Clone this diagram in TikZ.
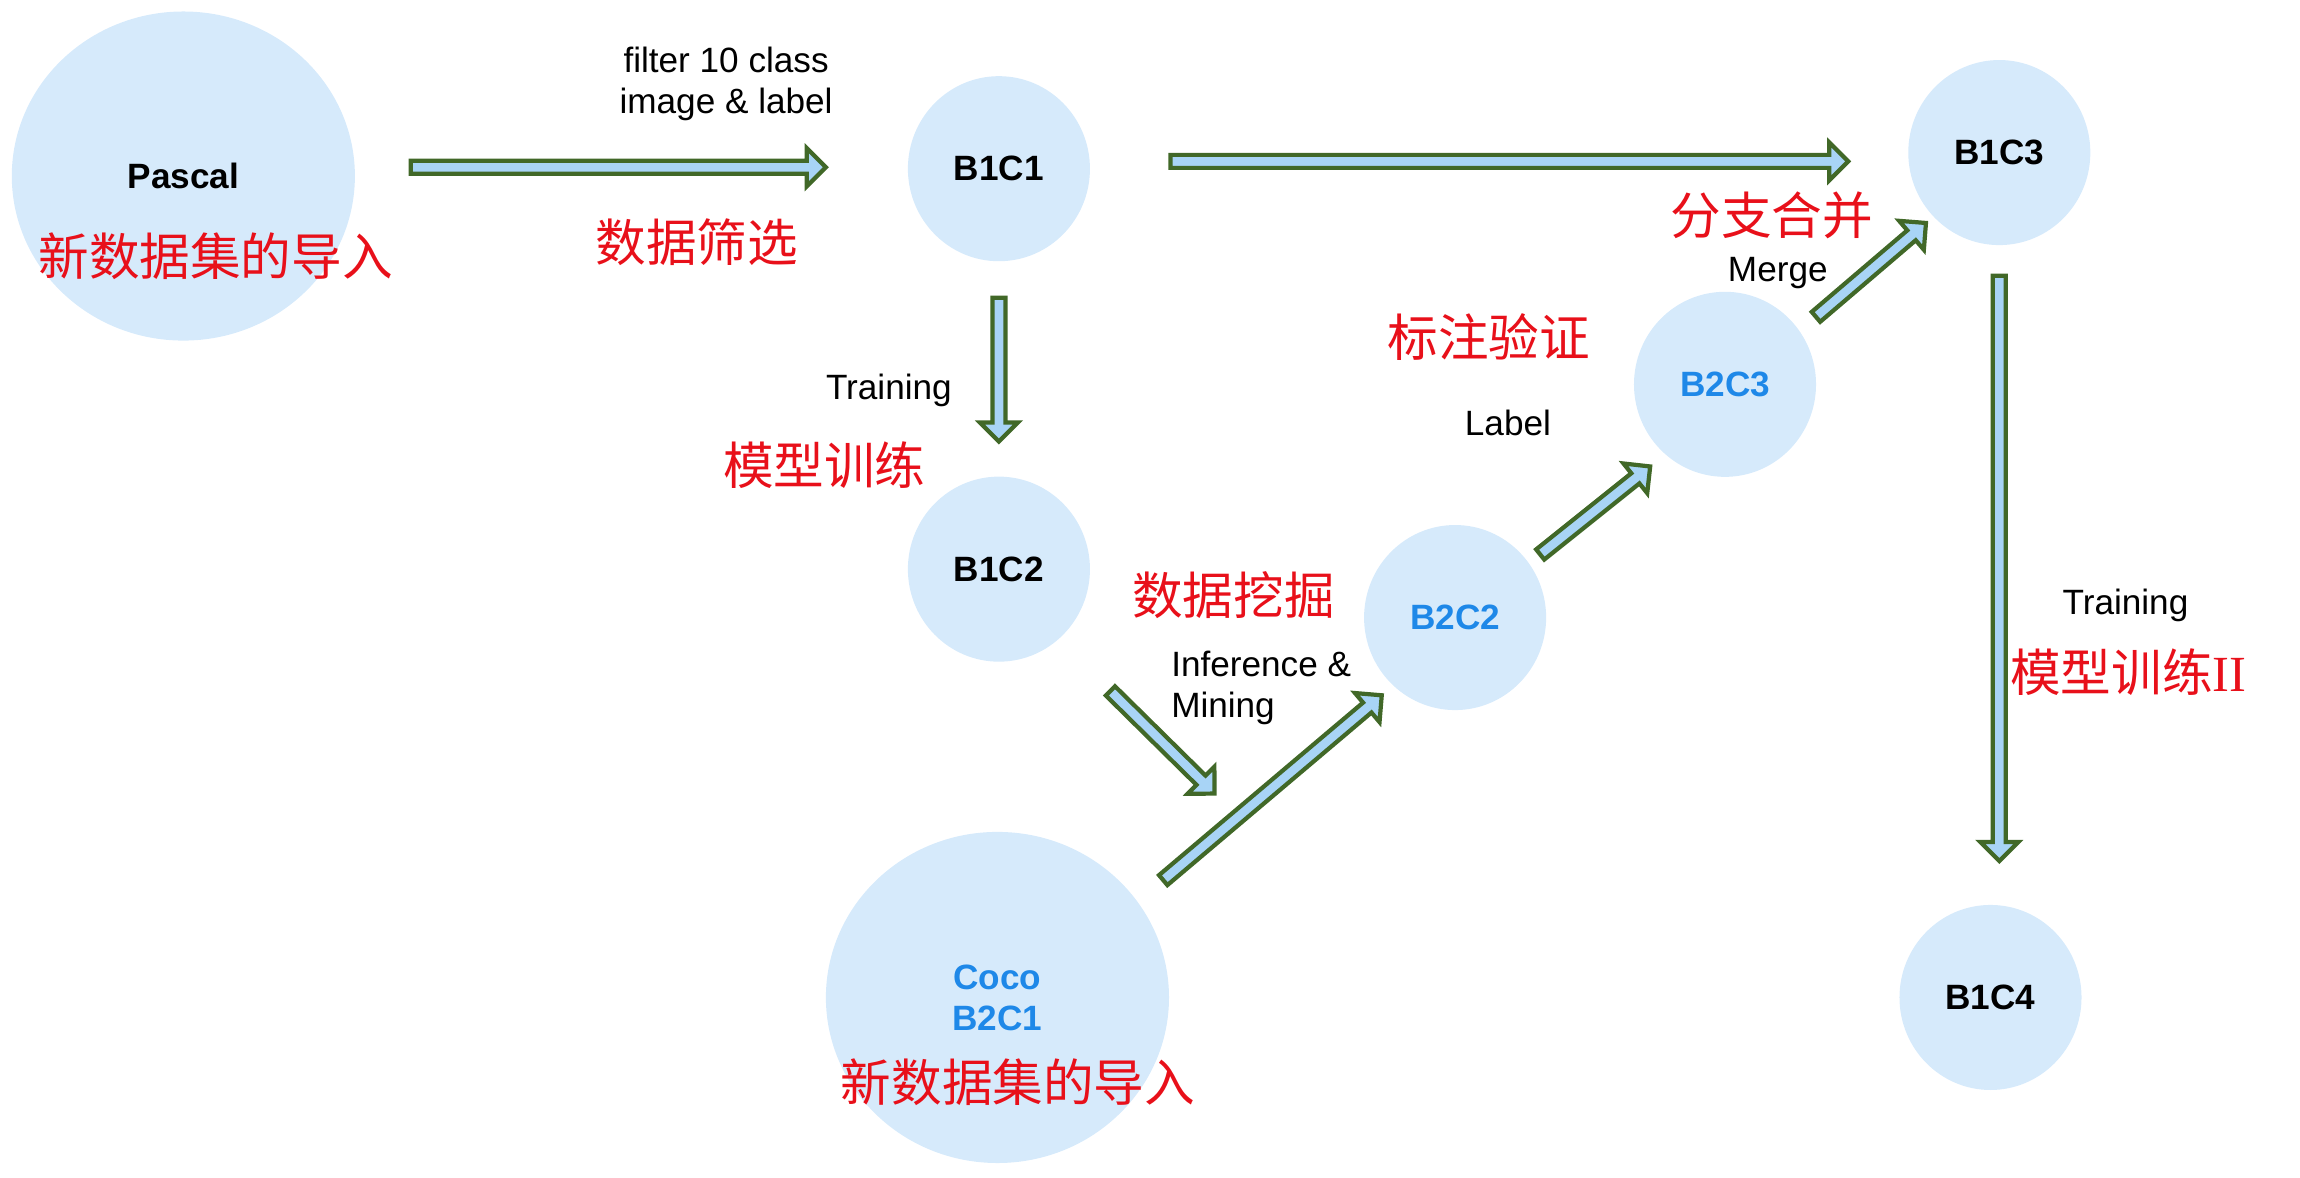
\documentclass[tikz,border=0pt]{standalone}
\usepackage{fontspec}
\setmainfont{Liberation Sans}
\newfontfamily\cjk{Noto Sans CJK SC}
\newfontfamily\latinserif{Liberation Serif}
\usetikzlibrary{calc,shapes.geometric}
\definecolor{cfill}{HTML}{D6EAFB}
\definecolor{cblue}{HTML}{1E88E8}
\definecolor{cred}{HTML}{E8101A}
\definecolor{agreen}{HTML}{416828}
\definecolor{afill}{HTML}{A8D4F6}
\tikzset{
  circ/.style={ellipse, fill=cfill, inner sep=0pt, minimum width=1.82cm, minimum height=1.85cm,
    font=\bfseries\fontsize{10}{11.7}\selectfont, align=center},
  bigcirc/.style={circ, minimum width=3.43cm, minimum height=3.29cm},
  lab/.style={font=\fontsize{10}{11.7}\selectfont, inner sep=0pt},
  cn/.style={font=\cjk\fontsize{14.4}{17}\selectfont, text=cred, inner sep=0pt},
  blockarr/.style={draw=agreen, fill=afill, line width=1.2pt, line join=miter},
}
\newcommand{\blockarrow}[2]{%
  \coordinate (#1-#2-h) at ($(#2)!0.19cm!(#1)$);
  \filldraw[blockarr] ($(#1)!0.065cm!90:(#2)$) -- ($(#1-#2-h)!0.065cm!-90:(#1)$)
    -- ($(#1-#2-h)!0.19cm!-90:(#1)$) -- (#2) -- ($(#1-#2-h)!0.19cm!90:(#1)$)
    -- ($(#1-#2-h)!0.065cm!90:(#1)$) -- ($(#1)!0.065cm!-90:(#2)$) -- cycle;}
\begin{document}
\begin{tikzpicture}[x=0.014668cm, y=-0.014668cm]
\useasboundingbox (0,0) rectangle (1568,803);
% circles
\node[bigcirc] (pascal) at (125,120) {Pascal};
\node[circ] (b1c1) at (681,115) {B1C1};
\node[circ] (b1c2) at (681,388) {B1C2};
\node[circ] (b1c3) at (1363,104) {B1C3};
\node[circ] (b1c4) at (1357,680) {B1C4};
\node[bigcirc, minimum height=3.31cm, text=cblue] (coco) at (680,680) {Coco\\B2C1};
\node[circ, text=cblue] (b2c2) at (992,421) {B2C2};
\node[circ, text=cblue] (b2c3) at (1176,262) {B2C3};
% arrow end points
\coordinate (a1s) at (280,114);  \coordinate (a1e) at (563,114);
\coordinate (a2s) at (798,110);  \coordinate (a2e) at (1260,110);
\coordinate (a3s) at (681,203);  \coordinate (a3e) at (681,301);
\coordinate (a4s) at (757,471);  \coordinate (a4e) at (828,541);
\coordinate (a5s) at (793,600);  \coordinate (a5e) at (942,474);
\coordinate (a6s) at (1050,378); \coordinate (a6e) at (1125,318);
\coordinate (a7s) at (1238,216); \coordinate (a7e) at (1313,152);
\coordinate (a8s) at (1363,188); \coordinate (a8e) at (1363,587);
\blockarrow{a1s}{a1e}
\blockarrow{a2s}{a2e}
\blockarrow{a3s}{a3e}
\blockarrow{a4s}{a4e}
\blockarrow{a5s}{a5e}
\blockarrow{a6s}{a6e}
\blockarrow{a7s}{a7e}
\blockarrow{a8s}{a8e}
% labels
\node[lab, align=center] (lfilter) at (495,57) {filter 10 class\\image \& label};
\node[lab] (ltrain1) at (606,266) {Training};
\node[lab, align=left, anchor=west] (linfer) at (798,469) {Inference \&\\Mining};
\node[lab] (llabel) at (1028,288) {Label};
\node[lab] (lmerge) at (1212,186) {Merge};
\node[lab] (ltrain2) at (1449,413) {Training};
% chinese
\node[cn] (cn1) at (147,175) {新数据集的导入};
\node[cn] (cn2) at (475,165) {数据筛选};
\node[cn] (cn3) at (562,317) {模型训练};
\node[cn] (cn4) at (841,406) {数据挖掘};
\node[cn] (cn5) at (694,738) {新数据集的导入};
\node[cn] (cn6) at (1015,230) {标注验证};
\node[cn] (cn7) at (1208,147) {分支合并};
\node[cn] (cn8) at (1451,458) {模型训练{\latinserif II}};
\end{tikzpicture}
\end{document}
